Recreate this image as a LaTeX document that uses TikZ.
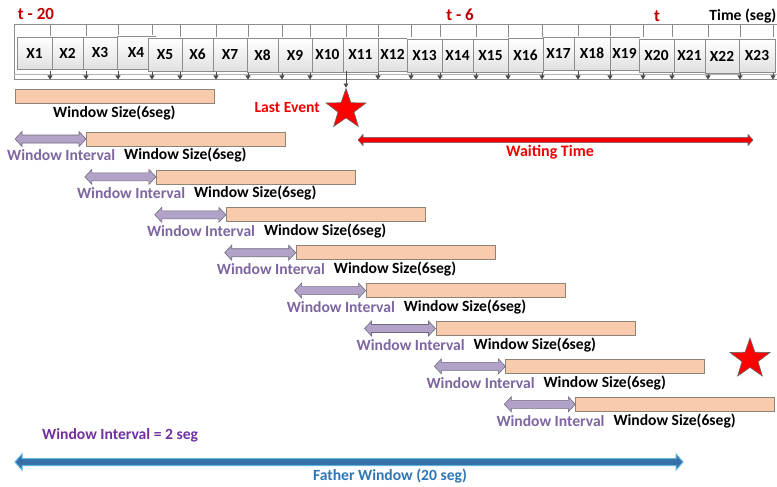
\documentclass[tikz,border=0pt]{standalone}
\usepackage{fontspec}
\setmainfont{Carlito}
\usetikzlibrary{shapes.geometric,arrows.meta,calc}

\definecolor{darkred}{HTML}{C00000}
\definecolor{brightred}{HTML}{F00000}
\definecolor{peach}{HTML}{F8CBAD}
\definecolor{peachedge}{HTML}{8F8378}
\definecolor{lavender}{HTML}{B3A2C7}
\definecolor{lavedge}{HTML}{6F6A80}
\definecolor{intertext}{HTML}{7D65A0}
\definecolor{violet2}{HTML}{7030A0}
\definecolor{fatherblue}{HTML}{2E75B6}
\definecolor{fathershaft}{HTML}{3570A6}
\definecolor{fatheredge}{HTML}{62B4E4}
\definecolor{frame}{HTML}{8C8C8C}

% double-headed block arrow: style, left tip, right tip, y, shaft half, head half, head length
\newcommand\dblarrow[7]{%
  \path[#1] (#2,#4) -- ({#2+#7},{#4-#6}) -- ({#2+#7},{#4-#5}) -- ({#3-#7},{#4-#5})
    -- ({#3-#7},{#4-#6}) -- (#3,#4) -- ({#3-#7},{#4+#6}) -- ({#3-#7},{#4+#5})
    -- ({#2+#7},{#4+#5}) -- ({#2+#7},{#4+#6}) -- cycle;}

\begin{document}
\begin{tikzpicture}[x=1pt,y=-1pt,
  every node/.style={font=\bfseries},
  lbl/.style={font=\fontsize{15.6}{17}\selectfont\bfseries},
  xbox/.style={draw=frame, top color=white, bottom color=black!12, inner sep=0pt,
               font=\fontsize{15.4}{17}\selectfont\bfseries},
  divider/.style={draw=frame, line width=0.7pt},
  tickarrow/.style={draw=black!70, line width=0.6pt, -{Triangle[length=4pt,width=5pt]}},
  winbar/.style={draw=peachedge, fill=peach, line width=0.8pt, inner sep=0pt,
                 minimum height=14pt, minimum width=199pt},
  intarrow/.style={draw=lavedge, fill=lavender, line width=0.6pt},
  intlabel/.style={lbl, anchor=west, text=intertext, inner sep=0pt},
  sizelabel/.style={lbl, anchor=west, text=black, inner sep=0pt},
  timelabel/.style={text=darkred, inner sep=0pt, font=\fontsize{17}{19}\selectfont\bfseries},
  eventstar/.style={star, star points=5, star point ratio=2.5, minimum size=42pt,
                    inner sep=0pt, fill=red, draw=black!60, line width=0.6pt}
]
\useasboundingbox (0,0) rectangle (777,487);

% ---- time line strip ----
\draw[frame, line width=0.8pt] (14,24) rectangle (777,79);
\draw[black!30, line width=0.5pt] (14,74.5) -- (777,74.5);

% cell dividers above the boxes and tick arrows below them
\foreach \tx in {50,86,118,152,180,216,248,282,310,378,411,440,476,508,542,578,610,643,672,708,740,773}{
  \draw[divider] (\tx,24) -- (\tx,37);
  \draw[tickarrow] (\tx,71) -- (\tx,79.5);
}
\draw[divider] (346,24) -- (346,37);

% sample boxes: index / left / right / top / bottom
\foreach \i/\l/\r/\t/\b in {
  1/17/52/37/69, 2/52/83/37/69, 3/83/117/37/69, 4/117/155/36/69,
  5/148/182/38/71, 6/182/213/38/71, 7/213/247/38/71,
  8/247/278/38/72, 9/278/312/38/72, 10/312/343/38/72, 11/343/378/38/72,
  12/378/407/38/71, 13/407/442/39/72, 14/442/473/39/72, 15/473/508/39/72,
  16/508/543/38/72, 17/543/574/37/70, 18/574/610/37/70, 19/610/639/37/70,
  20/639/674/39/72, 21/674/705/39/72, 22/705/739/39/73, 23/739/775/39/72}{
  \pgfmathsetmacro\bw{\r-\l}
  \pgfmathsetmacro\bh{\b-\t}
  \node[xbox, minimum width=\bw pt, minimum height=\bh pt]
    (x\i) at ({(\l+\r)/2},{(\t+\b)/2}) {X\i};
}

\node[timelabel] (t20) at (36,14) {t - 20};
\node[timelabel] (t6) at (460,15) {t - 6};
\node[timelabel] (t0) at (657,16) {t};
\node[lbl, anchor=east, inner sep=0pt] (tseg) at (776.5,16) {Time (seg)};

% ---- last event ----
\node[eventstar] (ev1) at (346,109.5) {};
\coordinate (evtick) at (346,71);
\draw[tickarrow] (evtick) -- (ev1.north);
\node[lbl, anchor=east, inner sep=0pt, text=brightred] (lastev) at (320,107) {Last Event};

% waiting time
\dblarrow{draw=black!60, fill=brightred, line width=0.6pt}{358}{753}{140}{2.6}{5.5}{5}
\node[text=brightred, inner sep=0pt, font=\fontsize{16}{18}\selectfont\bfseries]
  (wait) at (550,152.5) {Waiting Time};

% ---- first window ----
\node[winbar, anchor=west] (win0) at (15,96) {};
\node[sizelabel] (lblW0) at ($(win0.west)+(38,17)$) {Window Size(6seg)};

% ---- sliding windows ----
\foreach \k in {1,...,8}{
  \pgfmathsetmacro\xa{15+69.9*(\k-1)}
  \pgfmathsetmacro\xb{\xa+71}
  \pgfmathsetmacro\yc{139+37.9*(\k-1)}
  \node[winbar, anchor=west] (win\k) at (\xb,\yc) {};
  \dblarrow{intarrow}{\xa}{\xb}{\yc}{4}{7.5}{7}
  \node[intlabel] (lblI\k) at ($(win\k.west)+(-79,16.5)$) {Window Interval};
  \node[sizelabel] (lblW\k) at ($(win\k.west)+(38,16.5)$) {Window Size(6seg)};
}

\node[eventstar] (ev2) at (750,359) {};

% ---- legend and father window ----
\node[lbl, anchor=west, inner sep=0pt, text=violet2] (legend) at (42,435) {Window Interval = 2 seg};
\dblarrow{draw=fatheredge, fill=fathershaft, line width=1pt}{15}{683}{462}{3.5}{8}{7}
\node[lbl, text=fatherblue, inner sep=0pt] (father) at (390,476) {Father Window (20 seg)};
\end{tikzpicture}
\end{document}
